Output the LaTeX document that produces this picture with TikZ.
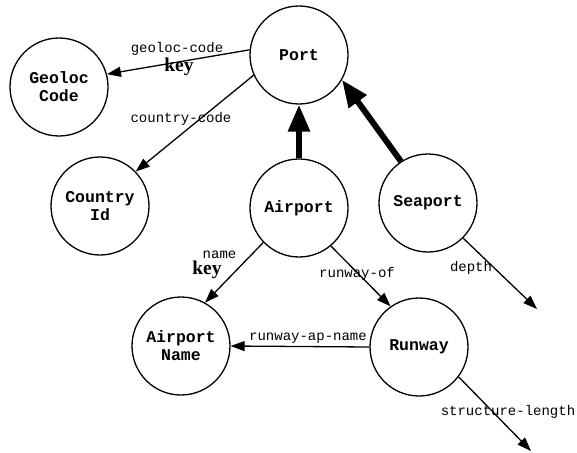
\documentclass[tikz,border=0pt]{standalone}
\usepackage{fontspec}
\setmonofont{Liberation Mono}
\newfontfamily\keyfont{Liberation Serif}
\usetikzlibrary{arrows.meta}
\tikzset{
  ent/.style={circle, draw, line width=1.3pt, minimum size=98pt, inner sep=0pt, align=center,
    font=\fontsize{16.5}{18}\selectfont\ttfamily\bfseries},
  rel/.style={line width=1.3pt, -{Triangle[length=14pt,width=10pt]}},
  isa/.style={line width=6pt, -{Triangle[length=27pt,width=21pt]}},
  lbl/.style={inner sep=0pt, font=\fontsize{14}{16}\selectfont\ttfamily},
  keylbl/.style={inner sep=0pt, font=\fontsize{19.5}{21}\selectfont\keyfont\bfseries},
}
\begin{document}
\begin{tikzpicture}[x=1pt,y=-1pt]
\useasboundingbox (0,0) rectangle (577,452);
\node[ent] (geo) at (59,87) {Geoloc\\Code};
\node[ent] (port) at (299,55) {Port};
\node[ent] (cty) at (100,206) {Country\\Id};
\node[ent] (air) at (299,208) {Airport};
\node[ent] (sea) at (428,203) {Seaport};
\node[ent] (apn) at (181,346) {Airport\\Name};
\node[ent] (rwy) at (419,347) {Runway};
\coordinate (dend) at (537,309);
\coordinate (send) at (531,451);

\draw[rel] (port.174) -- (geo.15);
\draw[rel] (port.204) -- (cty.44);
\draw[isa] (air.90) -- (port.270);
\draw[isa] (sea.123) -- (port.330);
\draw[rel] (air.224) -- (apn.61);
\draw[rel] (air.310) -- (rwy.125);
\draw[rel] (rwy.180) -- (apn.0);
\draw[rel] (sea.315) -- (dend);
\draw[rel] (rwy.323) -- (send);

\node[lbl] (l1) at (177,49) {geoloc-code};
\node[keylbl] (k1) at (179,67) {key};
\node[lbl] (l2) at (181,119) {country-code};
\node[lbl] (l3) at (219.5,255) {name};
\node[keylbl] (k2) at (207,270) {key};
\node[lbl] (l4) at (357,274) {runway-of};
\node[lbl] (l5) at (308,338) {runway-ap-name};
\node[lbl] (l6) at (471,268) {depth};
\node[lbl] (l7) at (508,412) {structure-length};
\end{tikzpicture}
\end{document}
